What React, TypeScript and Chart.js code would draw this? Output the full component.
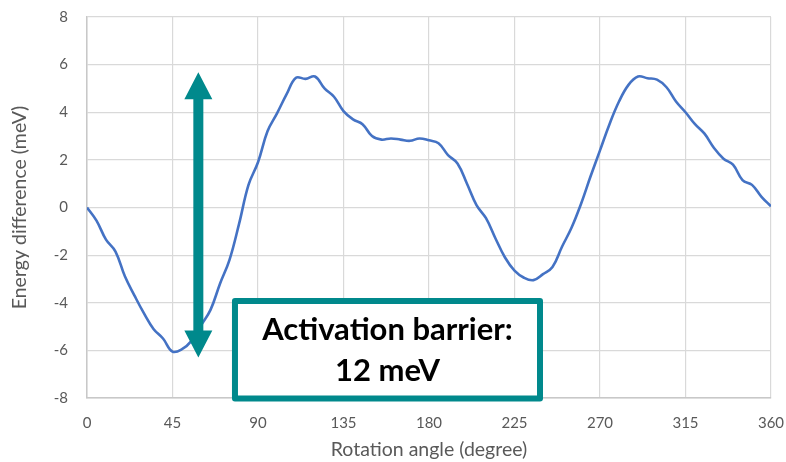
import React, { useEffect, useRef } from "react";
import { Chart, registerables } from "chart.js";

Chart.register(...registerables);

const angles = [
  0, 5, 10, 15, 20, 25, 30, 35, 40, 45, 50, 55, 60, 65, 70, 75, 80, 85, 90,
  95, 100, 105, 110, 115, 120, 125, 130, 135, 140, 145, 150, 155, 160, 165, 170, 175, 180,
  185, 190, 195, 200, 205, 210, 215, 220, 225, 230, 235, 240, 245, 250, 255, 260, 265, 270,
  275, 280, 285, 290, 295, 300, 305, 310, 315, 320, 325, 330, 335, 340, 345, 350, 355, 360,
];

const energy = [
  0, -0.55, -1.35, -1.85, -2.9, -3.7, -4.45, -5.1, -5.5, -6.05, -5.95, -5.6, -4.95, -4.3, -3.2, -2.2, -0.7, 0.95, 1.9,
  3.2, 3.95, 4.75, 5.45, 5.4, 5.5, 5.0, 4.65, 4.05, 3.7, 3.5, 3.0, 2.85, 2.9, 2.85, 2.8, 2.9, 2.82,
  2.7, 2.2, 1.85, 1.0, 0.1, -0.45, -1.3, -2.1, -2.65, -2.95, -3.05, -2.8, -2.5, -1.65, -0.85, 0.15, 1.3, 2.4,
  3.5, 4.45, 5.15, 5.5, 5.43, 5.37, 5.05, 4.45, 4.0, 3.5, 3.1, 2.5, 2.05, 1.8, 1.15, 0.95, 0.45, 0.05,
];

const xTitle = "Rotation angle (degree)";
const yTitle = "Energy difference (meV)";
const noteLines = ["Activation barrier:", "12 meV"];

// annotation anchors in data units
const arrowX = 58.6;
const arrowTop = 5.68;
const arrowBottom = -6.3;
const boxLeft = 76.3;
const boxRight = 240;
const boxTop = -3.8;
const boxBottom = -8.15;

const TEAL = "#00898C";

const annotationPlugin = {
  id: "barrierNote",
  afterDatasetsDraw(chart: any) {
    const { ctx, scales } = chart;
    const xs = scales.x;
    const ys = scales.y;
    ctx.save();
    // arrow
    const ax = xs.getPixelForValue(arrowX);
    const t = ys.getPixelForValue(arrowTop);
    const b = ys.getPixelForValue(arrowBottom);
    const headL = 27;
    const headW = 14;
    const shaftW = 5;
    ctx.fillStyle = TEAL;
    ctx.beginPath();
    ctx.moveTo(ax, t);
    ctx.lineTo(ax + headW, t + headL);
    ctx.lineTo(ax + shaftW, t + headL);
    ctx.lineTo(ax + shaftW, b - headL);
    ctx.lineTo(ax + headW, b - headL);
    ctx.lineTo(ax, b);
    ctx.lineTo(ax - headW, b - headL);
    ctx.lineTo(ax - shaftW, b - headL);
    ctx.lineTo(ax - shaftW, t + headL);
    ctx.lineTo(ax - headW, t + headL);
    ctx.closePath();
    ctx.fill();

    // box
    const l = xs.getPixelForValue(boxLeft);
    const r = xs.getPixelForValue(boxRight);
    const top = ys.getPixelForValue(boxTop);
    const bot = ys.getPixelForValue(boxBottom);
    const bw = 6;
    ctx.fillStyle = "#ffffff";
    ctx.fillRect(l, top, r - l, bot - top);
    ctx.strokeStyle = TEAL;
    ctx.lineWidth = bw;
    ctx.lineJoin = "round";
    ctx.strokeRect(l + bw / 2, top + bw / 2, r - l - bw, bot - top - bw);

    ctx.fillStyle = "#000000";
    ctx.font = "bold 31px Lato";
    ctx.textAlign = "center";
    ctx.textBaseline = "alphabetic";
    const cx = (l + r) / 2;
    ctx.fillText(noteLines[0], cx, top + 42.4);
    ctx.fillText(noteLines[1], cx, top + 83.4);
    ctx.restore();
  },
};

export default function App() {
  const ref = useRef<HTMLCanvasElement | null>(null);
  useEffect(() => {
    if (!ref.current) return;
    const gray = "#595959";
    const chart = new Chart(ref.current, {
      type: "line",
      data: {
        datasets: [
          {
            data: angles.map((a, i) => ({ x: a, y: energy[i] })),
            borderColor: "#4472C4",
            borderWidth: 2.6,
            pointRadius: 0,
            tension: 0.4,
            fill: false,
          },
        ],
      },
      options: {
        animation: false,
        responsive: true,
        maintainAspectRatio: false,
        layout: { padding: { top: 17, right: 15, left: 0, bottom: 0 } },
        plugins: { legend: { display: false }, tooltip: { enabled: false } },
        scales: {
          x: {
            type: "linear",
            min: 0,
            max: 360,
            ticks: { stepSize: 45, color: gray, font: { family: "Lato", size: 15 }, padding: 0, maxRotation: 0 },
            grid: { color: "#d9d9d9", lineWidth: 1.2, drawTicks: true, tickLength: 16, tickColor: "rgba(0,0,0,0)" },
            border: { color: "#c8c8c8", width: 1.5 },
            title: { display: true, text: xTitle, color: gray, font: { family: "Lato", size: 19.5 }, padding: { top: 0, bottom: 1 } },
            afterFit: (s: any) => {
              s.height = 64;
            },
          },
          y: {
            min: -8,
            max: 8,
            ticks: { stepSize: 2, color: gray, font: { family: "Lato", size: 15 }, padding: 0 },
            grid: { color: "#d9d9d9", lineWidth: 1.2, drawTicks: true, tickLength: 19, tickColor: "rgba(0,0,0,0)" },
            border: { color: "#c8c8c8", width: 1.5 },
            title: { display: true, text: yTitle, color: gray, font: { family: "Lato", size: 19.5 }, padding: { top: 8, bottom: 0 } },
            afterFit: (s: any) => {
              s.width = 87;
            },
          },
        },
      },
      plugins: [annotationPlugin],
    });
    return () => chart.destroy();
  }, []);
  return (
    <div style={{ position: "fixed", left: 0, top: 0, width: 786, height: 462, background: "#fff" }}>
      <canvas ref={ref} />
    </div>
  );
}
